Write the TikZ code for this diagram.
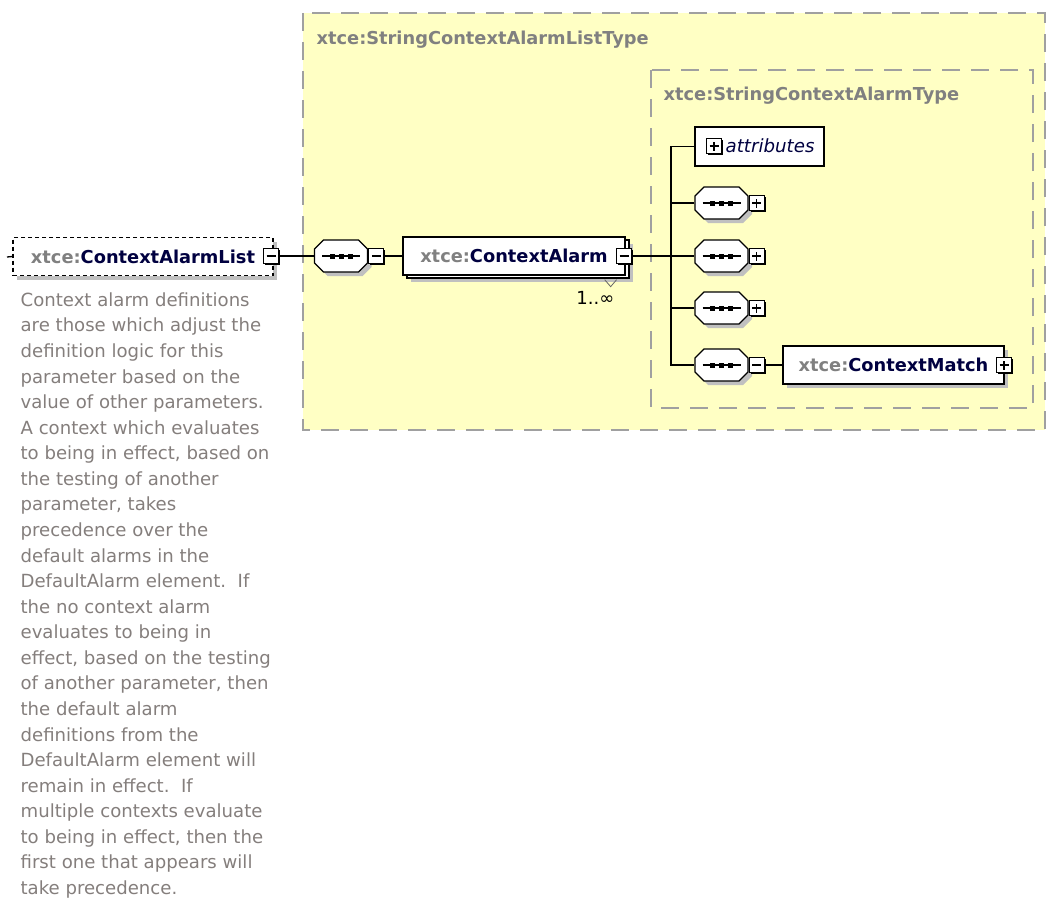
\documentclass[tikz,border=0pt]{standalone}
\usepackage{fontspec}
\setmainfont{DejaVu Sans}
\usetikzlibrary{shadows}

\definecolor{typefill}{RGB}{255,255,196}
\definecolor{typeline}{RGB}{160,160,160}
\definecolor{shadowgray}{RGB}{192,192,192}
\definecolor{prefixgray}{RGB}{128,128,128}
\definecolor{namenavy}{RGB}{0,0,64}
\definecolor{docgray}{RGB}{132,126,124}

% element name with its namespace prefix
\newcommand\xtcename[1]{\textcolor{prefixgray}{xtce:}\textcolor{namenavy}{#1}}

% octagon of a sequence compositor, drawn round an empty node
\newcommand\seqframe[1]{%
  \fill[shadowgray, shift={(#1.center)}, xshift=4pt, yshift=-4pt]
    (-26.5,-7) -- (-17.5,-16) -- (17.5,-16) -- (26.5,-7) -- (26.5,7) -- (17.5,16) -- (-17.5,16) -- (-26.5,7) -- cycle;
  \draw[fill=white, shift={(#1.center)}]
    (-26.5,-7) -- (-17.5,-16) -- (17.5,-16) -- (26.5,-7) -- (26.5,7) -- (17.5,16) -- (-17.5,16) -- (-26.5,7) -- cycle;
  \draw[line width=1.6pt] ([xshift=-19pt]#1.center) -- ([xshift=19pt]#1.center);
  \foreach \d in {-9,0,9}
    \fill ([xshift=\d pt]#1.center) +(-2.5,-2.5) rectangle +(2.5,2.5);
}

\tikzset{
  typebox/.style={draw=typeline, fill=typefill, line width=1.3pt, dash pattern=on 18pt off 11pt},
  typelabel/.style={anchor=west, inner sep=0pt, text=prefixgray, font=\fontsize{17.8}{21}\selectfont\bfseries},
  elembox/.style={draw, fill=white, line width=1.3pt, minimum height=38pt, inner sep=0pt,
    font=\fontsize{17.8}{21}\selectfont\bfseries,
    drop shadow={shadow xshift=4pt, shadow yshift=-4pt, opacity=1, fill=shadowgray}},
  multibox/.style={draw, fill=white, line width=1.3pt, minimum height=38pt, inner sep=0pt,
    font=\fontsize{17.8}{21}\selectfont\bfseries,
    drop shadow={shadow xshift=8pt, shadow yshift=-7pt, opacity=1, fill=shadowgray},
    copy shadow={shadow xshift=4pt, shadow yshift=-3pt}},
  togbox/.style={draw, fill=white, line width=1.2pt, minimum size=15pt, inner sep=0pt,
    drop shadow={shadow xshift=1.5pt, shadow yshift=-1.5pt, opacity=1, fill=black}},
  minus/.style={togbox, path picture={
    \draw[line width=1.2pt] ([xshift=-4.5pt]path picture bounding box.center) -- ([xshift=4.5pt]path picture bounding box.center);}},
  plus/.style={togbox, path picture={
    \draw[line width=1.2pt] ([xshift=-4.5pt]path picture bounding box.center) -- ([xshift=4.5pt]path picture bounding box.center)
      ([yshift=-4.5pt]path picture bounding box.center) -- ([yshift=4.5pt]path picture bounding box.center);}},
  seqbox/.style={minimum width=53pt, minimum height=32pt, inner sep=0pt},
}

\begin{document}
\begin{tikzpicture}[x=1pt, y=-1pt, line width=1.3pt]
  \useasboundingbox (0,0) rectangle (1047,899);

  % complex types
  \draw[typebox] (303,13) rectangle (1045,430);
  \node[typelabel] (outerlbl) at (316,40) {xtce:StringContextAlarmListType};
  \draw[typebox] (651,70) rectangle (1033,408);
  \node[typelabel] (innerlbl) at (663,96) {xtce:StringContextAlarmType};

  % the list element
  \coordinate (stub) at (7,257);
  \node[elembox, dash pattern=on 4pt off 3pt, minimum width=260pt] (cal) at (143,256.5) {\xtcename{ContextAlarmList}};
  \node[minus] (calt) at (271,256) {};
  \draw (stub) -- (cal.west);

  % its documentation
  \node[anchor=north west, inner sep=0pt, align=left, text=docgray,
        font=\fontsize{18.1}{25.57}\selectfont] (doc) at (20,292) {%
    Context alarm definitions\\
    are those which adjust the\\
    definition logic for this\\
    parameter based on the\\
    value of other parameters.\\
    A context which evaluates\\
    to being in effect, based on\\
    the testing of another\\
    parameter, takes\\
    precedence over the\\
    default alarms in the\\
    DefaultAlarm element.\ \ If\\
    the no context alarm\\
    evaluates to being in\\
    effect, based on the testing\\
    of another parameter, then\\
    the default alarm\\
    definitions from the\\
    DefaultAlarm element will\\
    remain in effect.\ \ If\\
    multiple contexts evaluate\\
    to being in effect, then the\\
    first one that appears will\\
    take precedence.};

  % sequence and the repeated ContextAlarm
  \node[seqbox] (seq0) at (341,256) {};
  \seqframe{seq0}
  \node[minus, anchor=west] (seq0t) at (seq0.east) {};
  \draw (calt) -- (seq0);
  \node[multibox, minimum width=222pt] (ca) at (514,256) {\xtcename{ContextAlarm}};
  \node[minus] (cat) at (624,256) {};
  \draw (seq0t) -- (ca);
  \draw[line width=0.8pt, draw=black!60] (ca.south east) ++(-21,4) -- ++(6,7) -- ++(6,-7);
  \node[anchor=east, inner sep=0pt, font=\fontsize{18}{21}\selectfont] (occurs) at (615,298) {1..∞};

  % content of StringContextAlarmType
  \node[draw, fill=white, line width=1.3pt, minimum width=129pt, minimum height=39pt] (attr) at (759.5,146.5) {};
  \node[plus] (attrt) at (714,146) {};
  \node[anchor=west, inner sep=0pt, text=namenavy, font=\fontsize{18.2}{21}\selectfont\itshape] (attrlbl) at (725,146) {attributes};

  \foreach \s/\y in {seq1/203, seq2/256, seq3/308, seq4/365} {
    \node[seqbox] (\s) at (721.5,\y) {};
    \seqframe{\s}
  }
  \node[plus, anchor=west] (seq1t) at (seq1.east) {};
  \node[plus, anchor=west] (seq2t) at (seq2.east) {};
  \node[plus, anchor=west] (seq3t) at (seq3.east) {};
  \node[minus, anchor=west] (seq4t) at (seq4.east) {};

  \node[elembox, minimum width=221pt] (cm) at (893.5,365) {\xtcename{ContextMatch}};
  \node[plus] (cmt) at (1004,365) {};
  \draw (seq4t) -- (cm);

  % branch lines
  \coordinate (trunk) at (671,0);
  \draw (cat) -- (seq2);
  \draw (attr.west) -- (attr.west -| trunk) -- (seq4.west -| trunk) -- (seq4.west);
  \foreach \s in {seq1,seq3}
    \draw (\s.west) -- (\s.west -| trunk);
\end{tikzpicture}
\end{document}
